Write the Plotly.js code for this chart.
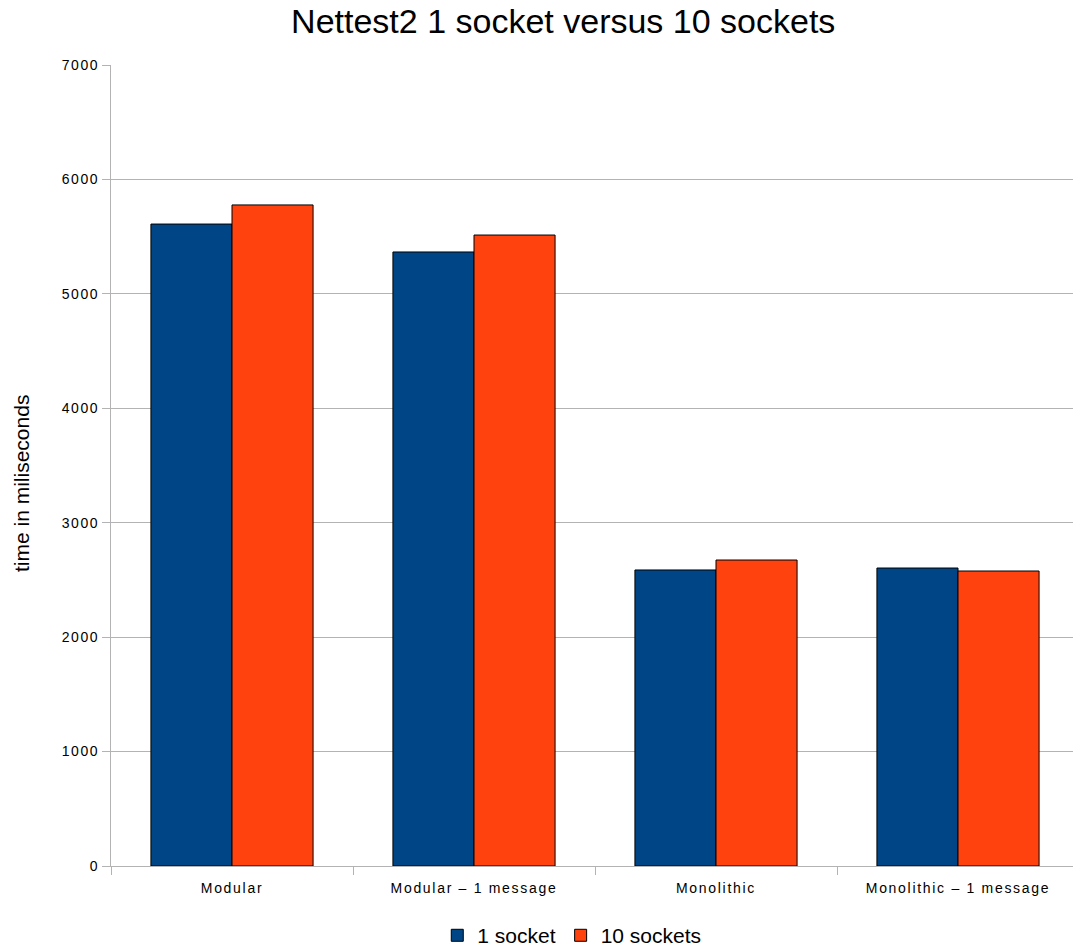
<!DOCTYPE html>
<html>
<head>
<meta charset="utf-8">
<script src="https://cdn.plot.ly/plotly-3.0.1.min.js"></script>
<style>
html,body{margin:0;padding:0;background:#fff;overflow:hidden;}
.xtick text { letter-spacing: 1.7px; }
.ytick text { letter-spacing: 1.6px; }
</style>
</head>
<body>
<div id="chart" style="width:1080px;height:947px;"></div>
<script>
const categories = ["Modular", "Modular \u2013 1 message", "Monolithic", "Monolithic \u2013 1 message"];
const oneSocket = [5610, 5366, 2587, 2604];
const tenSockets = [5777, 5514, 2674, 2578];
const seriesNames = ["1 socket", "10 sockets"];
const yTitle = "time in miliseconds";

const traces = [
  {type: "bar", name: seriesNames[0], x: categories, y: oneSocket,
   marker: {color: "#004586", line: {color: "#000000", width: 1}}},
  {type: "bar", name: seriesNames[1], x: categories, y: tenSockets,
   marker: {color: "#ff420e", line: {color: "#000000", width: 1}}}
];

const layout = {
  width: 1080, height: 947,
  margin: {l: 111, r: 1, t: 65, b: 81},
  paper_bgcolor: "#ffffff", plot_bgcolor: "#ffffff",
  font: {family: "Liberation Sans, Arial, sans-serif", color: "#000000"},
  title: {text: "Nettest2 1 socket versus 10 sockets", font: {size: 34, color: "#000"}, x: 0.5215, xanchor: "center", y: 0.978, yanchor: "middle"},
  barmode: "group", bargap: 0.33, bargroupgap: 0,
  xaxis: {
    type: "category", showgrid: false, showline: true, linecolor: "#b3b3b3", linewidth: 1,
    ticks: "outside", tickson: "boundaries", ticklen: 8, tickcolor: "#b3b3b3",
    tickfont: {size: 14, color: "#000"}, ticklabelstandoff: 9, automargin: false
  },
  yaxis: {
    range: [0, 7000], dtick: 1000, showgrid: true, gridcolor: "#b3b3b3", gridwidth: 1,
    showline: true, linecolor: "#b3b3b3", ticks: "outside", ticklen: 8, tickcolor: "#b3b3b3",
    zeroline: false, tickfont: {size: 14, color: "#000"}, automargin: false
  },
  annotations: [{
    text: yTitle, textangle: -90, showarrow: false,
    xref: "paper", yref: "paper", x: (22 - 111) / 968, y: (866 - 484) / 801,
    xanchor: "center", yanchor: "middle", font: {size: 21, color: "#000"}
  }],
  legend: {orientation: "h", x: 0.476, xanchor: "center", xref: "paper",
           y: 0.012, yanchor: "middle", yref: "container",
           font: {size: 21, color: "#000"}, itemwidth: 30, tracegroupgap: 0},
  showlegend: true
};

Plotly.newPlot("chart", traces, layout, {displayModeBar: false});
</script>
</body>
</html>
